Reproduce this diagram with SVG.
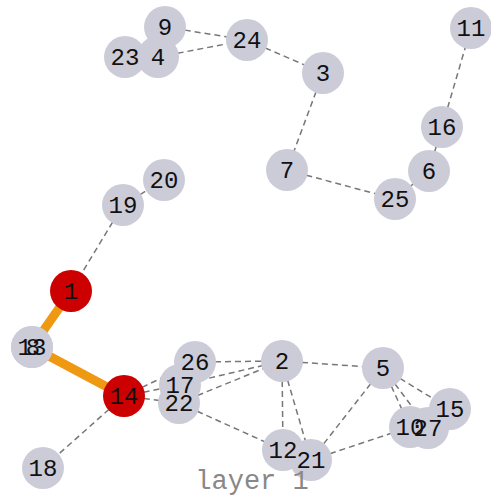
<svg xmlns="http://www.w3.org/2000/svg" width="491" height="498" viewBox="0 0 491 498">
<style>
.e{stroke:#777;stroke-width:1.5;stroke-dasharray:6,4;fill:none}
.h{stroke:#ee9911;stroke-width:9;fill:none}
.n circle{fill:#ccccd9}
.r circle{fill:#cc0000}
text{font-family:"Liberation Mono","DejaVu Sans Mono",monospace;font-size:24px;fill:#111;text-anchor:middle}
.t{fill:#888;font-size:27px}
</style>
<rect width="491" height="498" fill="#fff"/>
<g id="connectors">
<line class="e" x1="165" y1="27" x2="247" y2="40"/>
<line class="e" x1="158" y1="57" x2="247" y2="40"/>
<line class="e" x1="247" y1="40" x2="323" y2="73"/>
<line class="e" x1="323" y1="73" x2="287" y2="170"/>
<line class="e" x1="287" y1="170" x2="395" y2="199"/>
<line class="e" x1="395" y1="199" x2="429" y2="171"/>
<line class="e" x1="429" y1="171" x2="442" y2="127"/>
<line class="e" x1="442" y1="127" x2="471" y2="28"/>
<line class="e" x1="123" y1="205" x2="164" y2="180"/>
<line class="e" x1="123" y1="205" x2="71" y2="291"/>
<line class="e" x1="124" y1="396" x2="43" y2="468"/>
<line class="e" x1="124" y1="396" x2="195" y2="362"/>
<line class="e" x1="124" y1="396" x2="180" y2="385"/>
<line class="e" x1="124" y1="396" x2="179" y2="403"/>
<line class="e" x1="195" y1="362" x2="282" y2="361"/>
<line class="e" x1="180" y1="385" x2="282" y2="361"/>
<line class="e" x1="179" y1="403" x2="282" y2="361"/>
<line class="e" x1="179" y1="403" x2="283" y2="450"/>
<line class="e" x1="282" y1="361" x2="283" y2="450"/>
<line class="e" x1="282" y1="361" x2="311" y2="460"/>
<line class="e" x1="282" y1="361" x2="383" y2="368"/>
<line class="e" x1="383" y1="368" x2="311" y2="460"/>
<line class="e" x1="383" y1="368" x2="450" y2="409"/>
<line class="e" x1="383" y1="368" x2="410" y2="427"/>
<line class="e" x1="383" y1="368" x2="428" y2="428"/>
<line class="e" x1="311" y1="460" x2="410" y2="427"/>
<line class="h" x1="71" y1="291" x2="32" y2="347"/>
<line class="h" x1="32" y1="347" x2="124" y2="396"/>
</g>
<g id="nodes">
<g id="n9" class="n"><circle cx="165" cy="27" r="21"/></g>
<g id="n23" class="n"><circle cx="125" cy="57" r="21"/></g>
<g id="n4" class="n"><circle cx="158" cy="57" r="21"/></g>
<g id="n24" class="n"><circle cx="247" cy="40" r="21"/></g>
<g id="n3" class="n"><circle cx="323" cy="73" r="21"/></g>
<g id="n11" class="n"><circle cx="471" cy="28" r="21"/></g>
<g id="n16" class="n"><circle cx="442" cy="127" r="21"/></g>
<g id="n7" class="n"><circle cx="287" cy="170" r="21"/></g>
<g id="n6" class="n"><circle cx="429" cy="171" r="21"/></g>
<g id="n25" class="n"><circle cx="395" cy="199" r="21"/></g>
<g id="n20" class="n"><circle cx="164" cy="180" r="21"/></g>
<g id="n19" class="n"><circle cx="123" cy="205" r="21"/></g>
<g id="n1" class="r"><circle cx="71" cy="291" r="21"/></g>
<g id="n13" class="n"><circle cx="32" cy="347" r="21"/></g>
<g id="n8" class="n"><circle cx="32" cy="347" r="21"/></g>
<g id="n18" class="n"><circle cx="43" cy="468" r="21"/></g>
<g id="n26" class="n"><circle cx="195" cy="362" r="21"/></g>
<g id="n17" class="n"><circle cx="180" cy="385" r="21"/></g>
<g id="n22" class="n"><circle cx="179" cy="403" r="21"/></g>
<g id="n14" class="r"><circle cx="124" cy="396" r="21"/></g>
<g id="n2" class="n"><circle cx="282" cy="361" r="21"/></g>
<g id="n5" class="n"><circle cx="383" cy="368" r="21"/></g>
<g id="n15" class="n"><circle cx="450" cy="409" r="21"/></g>
<g id="n10" class="n"><circle cx="410" cy="427" r="21"/></g>
<g id="n27" class="n"><circle cx="428" cy="428" r="21"/></g>
<g id="n12" class="n"><circle cx="283" cy="450" r="21"/></g>
<g id="n21" class="n"><circle cx="311" cy="460" r="21"/></g>
</g>
<g id="labels">
<text x="165" y="35">9</text>
<text x="125" y="65">23</text>
<text x="158" y="65">4</text>
<text x="247" y="48">24</text>
<text x="323" y="81">3</text>
<text x="471" y="36">11</text>
<text x="442" y="135">16</text>
<text x="287" y="178">7</text>
<text x="429" y="179">6</text>
<text x="395" y="207">25</text>
<text x="164" y="188">20</text>
<text x="123" y="213">19</text>
<text x="71" y="299">1</text>
<text x="32" y="355">13</text>
<text x="33" y="355">8</text>
<text x="43" y="476">18</text>
<text x="195" y="370">26</text>
<text x="180" y="393">17</text>
<text x="179" y="411">22</text>
<text x="124" y="404">14</text>
<text x="282" y="369">2</text>
<text x="383" y="376">5</text>
<text x="450" y="417">15</text>
<text x="410" y="435">10</text>
<text x="428" y="436">27</text>
<text x="283" y="458">12</text>
<text x="311" y="468">21</text>
</g>
<text class="t" x="252" y="489">layer 1</text>
</svg>
